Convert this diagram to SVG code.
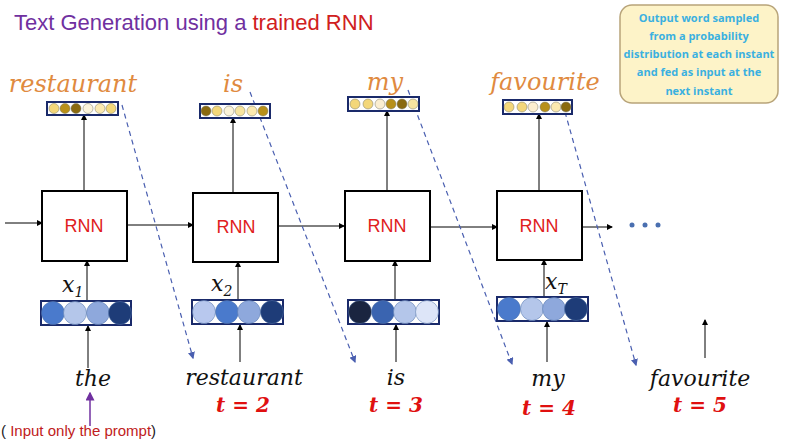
<svg xmlns="http://www.w3.org/2000/svg" width="800" height="442" viewBox="0 0 800 442">
<style>
.box{fill:#fff;stroke:#000;stroke-width:2}
.rnn{font-family:"Liberation Sans",sans-serif;font-size:18px;fill:#e02020;text-anchor:middle}
.ln{stroke:#000;stroke-width:1;fill:none}
.dash{stroke:#4a5fb0;stroke-width:1.2;stroke-dasharray:5 4;fill:none}
.ow{font-family:"DejaVu Serif",serif;font-style:italic;font-size:24px;fill:#e08a40;text-anchor:middle}
.bw{font-family:"DejaVu Serif",serif;font-style:italic;font-size:22px;fill:#111;text-anchor:middle}
.t{font-family:"DejaVu Serif",serif;font-weight:bold;font-style:italic;font-size:20px;fill:#e01010;text-anchor:middle}
.x{font-family:"DejaVu Serif",serif;font-style:italic;font-size:22px;fill:#111}
.vec{fill:#fff;stroke:#1a2a6a;stroke-width:2}
.ovec{fill:#fff;stroke:#1a2a6a;stroke-width:2}
</style>
<defs>
<marker id="a" markerWidth="6" markerHeight="6" refX="5" refY="3" orient="auto"><path d="M0,0L6,3L0,6z" fill="#000"/></marker>
<marker id="b" markerWidth="6" markerHeight="6" refX="5" refY="3" orient="auto"><path d="M0,0L6,3L0,6z" fill="#4a5fb0"/></marker>
<marker id="p" markerWidth="6" markerHeight="6" refX="5" refY="3" orient="auto"><path d="M0,0L6,3L0,6z" fill="#7030a0"/></marker>
</defs>
<text x="14" y="30" font-family="Liberation Sans,sans-serif" font-size="22" fill="#7030a0">Text Generation using a <tspan fill="#d02020">trained RNN</tspan></text>
<g id="callout">
<rect x="620" y="5" width="158" height="98" rx="12" fill="#fdf3c8" stroke="#b8a47a" stroke-width="1.5"/>
<g font-family="Open Sans,sans-serif" font-size="11" font-weight="bold" fill="#3ab0e0" text-anchor="middle">
<text x="699" y="22">Output word sampled</text>
<text x="699" y="40">from a probability</text>
<text x="699" y="58">distribution at each instant</text>
<text x="699" y="76">and fed as input at the</text>
<text x="699" y="95">next instant</text>
</g>
</g>
<g id="connectors">
<line class="ln" x1="5" y1="223" x2="42" y2="223" marker-end="url(#a)"/>
<line class="ln" x1="127" y1="225" x2="193" y2="225" marker-end="url(#a)"/>
<line class="ln" x1="278" y1="226" x2="344" y2="226" marker-end="url(#a)"/>
<line class="ln" x1="430" y1="227" x2="497" y2="227" marker-end="url(#a)"/>
<line class="ln" x1="582" y1="227" x2="612" y2="227" marker-end="url(#a)"/>
<line class="ln" x1="84" y1="191" x2="84" y2="115" marker-end="url(#a)"/>
<line class="ln" x1="233" y1="193" x2="233" y2="118" marker-end="url(#a)"/>
<line class="ln" x1="387" y1="191" x2="387" y2="111" marker-end="url(#a)"/>
<line class="ln" x1="539" y1="191" x2="539" y2="114" marker-end="url(#a)"/>
<line class="ln" x1="87" y1="300" x2="87" y2="261" marker-end="url(#a)"/>
<line class="ln" x1="238" y1="299" x2="238" y2="262" marker-end="url(#a)"/>
<line class="ln" x1="395" y1="299" x2="395" y2="261" marker-end="url(#a)"/>
<line class="ln" x1="544" y1="297" x2="544" y2="260" marker-end="url(#a)"/>
<line class="ln" x1="88" y1="368" x2="88" y2="326" marker-end="url(#a)"/>
<line class="ln" x1="240" y1="362" x2="240" y2="325" marker-end="url(#a)"/>
<line class="ln" x1="396" y1="362" x2="396" y2="325" marker-end="url(#a)"/>
<line class="ln" x1="547" y1="362" x2="547" y2="322" marker-end="url(#a)"/>
<line class="ln" x1="705" y1="358" x2="705" y2="320" marker-end="url(#a)"/>
<line x1="90" y1="426" x2="90" y2="393" stroke="#7030a0" stroke-width="1.5" marker-end="url(#p)"/>
<line class="dash" x1="122" y1="105" x2="193" y2="358" marker-end="url(#b)"/>
<line class="dash" x1="250" y1="92" x2="355" y2="362" marker-end="url(#b)"/>
<line class="dash" x1="408" y1="90" x2="512" y2="364" marker-end="url(#b)"/>
<line class="dash" x1="565" y1="112" x2="636" y2="365" marker-end="url(#b)"/>
</g>
<g id="dots" fill="#4a6fb0"><circle cx="632" cy="225" r="2.5"/><circle cx="645" cy="225" r="2.5"/><circle cx="658" cy="225" r="2.5"/></g>
<g id="rnn1"><rect class="box" x="42" y="191" width="85" height="70"/><text class="rnn" x="84" y="232">RNN</text></g>
<g id="rnn2"><rect class="box" x="193" y="193" width="85" height="69"/><text class="rnn" x="236" y="233">RNN</text></g>
<g id="rnn3"><rect class="box" x="345" y="191" width="85" height="70"/><text class="rnn" x="387" y="232">RNN</text></g>
<g id="rnn4"><rect class="box" x="497" y="191" width="85" height="69"/><text class="rnn" x="539" y="232">RNN</text></g>
<g id="out1"><rect class="ovec" x="47" y="102" width="71" height="13"/>
<g stroke="#776" stroke-width="0.5"><circle cx="54" cy="108.5" r="5" fill="#f3d77a"/><circle cx="65" cy="108.5" r="5" fill="#b8901a"/><circle cx="76" cy="108.5" r="5" fill="#8a6a10"/><circle cx="88" cy="108.5" r="5" fill="#fbf3da"/><circle cx="100" cy="108.5" r="5" fill="#fbe9b0"/><circle cx="111" cy="108.5" r="5" fill="#f3d77a"/></g></g>
<g id="out2"><rect class="ovec" x="200" y="104" width="70" height="14"/>
<g stroke="#776" stroke-width="0.5"><circle cx="206" cy="111" r="5" fill="#8a6a10"/><circle cx="217" cy="111" r="5" fill="#f3d77a"/><circle cx="229" cy="111" r="5" fill="#fbf3da"/><circle cx="240" cy="111" r="5" fill="#f7e4a0"/><circle cx="252" cy="111" r="5" fill="#fbe9b0"/><circle cx="263" cy="111" r="5" fill="#b8901a"/></g></g>
<g id="out3"><rect class="ovec" x="348" y="97" width="71" height="14"/>
<g stroke="#776" stroke-width="0.5"><circle cx="355" cy="104" r="5" fill="#f3d77a"/><circle cx="368" cy="104" r="5" fill="#f3d77a"/><circle cx="380" cy="104" r="5" fill="#fbeed0"/><circle cx="391" cy="104" r="5" fill="#b8901a"/><circle cx="402" cy="104" r="5" fill="#8a6a10"/><circle cx="413" cy="104" r="5" fill="#f7e4a0"/></g></g>
<g id="out4"><rect class="ovec" x="503" y="100" width="69" height="14"/>
<g stroke="#776" stroke-width="0.5"><circle cx="509" cy="107" r="5" fill="#f3d77a"/><circle cx="522" cy="107" r="5" fill="#f3d77a"/><circle cx="533" cy="107" r="5" fill="#fbeed0"/><circle cx="545" cy="107" r="5" fill="#b8901a"/><circle cx="556" cy="107" r="5" fill="#fbe9b0"/><circle cx="566" cy="107" r="5" fill="#8a6a10"/></g></g>
<g id="in1"><rect class="vec" x="41" y="301" width="90" height="24"/>
<g stroke="#5577aa" stroke-width="0.5"><circle cx="53" cy="313" r="11.5" fill="#4a7acc"/><circle cx="75" cy="313" r="11.5" fill="#b4c6ea"/><circle cx="98" cy="313" r="11.5" fill="#8ea8dc"/><circle cx="120" cy="313" r="11.5" fill="#1e3c78"/></g></g>
<g id="in2"><rect class="vec" x="192" y="300" width="91" height="24"/>
<g stroke="#5577aa" stroke-width="0.5"><circle cx="204" cy="312" r="11.5" fill="#b8c8ee"/><circle cx="227" cy="312" r="11.5" fill="#4a7acc"/><circle cx="249" cy="312" r="11.5" fill="#8ea8dc"/><circle cx="272" cy="312" r="11.5" fill="#1e3c78"/></g></g>
<g id="in3"><rect class="vec" x="348" y="300" width="91" height="24"/>
<g stroke="#5577aa" stroke-width="0.5"><circle cx="360" cy="312" r="11.5" fill="#1a2540"/><circle cx="383" cy="312" r="11.5" fill="#3a64b0"/><circle cx="405" cy="312" r="11.5" fill="#b4c6ea"/><circle cx="427" cy="312" r="11.5" fill="#dde5f8"/></g></g>
<g id="in4"><rect class="vec" x="497" y="297" width="91" height="24"/>
<g stroke="#5577aa" stroke-width="0.5"><circle cx="509" cy="309" r="11.5" fill="#4a7acc"/><circle cx="532" cy="309" r="11.5" fill="#b4c6ea"/><circle cx="554" cy="309" r="11.5" fill="#8ea8dc"/><circle cx="576" cy="309" r="11.5" fill="#1e3c78"/></g></g>
<g id="xlabels">
<text class="x" x="62" y="292">x<tspan font-size="14" dy="5">1</tspan></text>
<text class="x" x="211" y="291">x<tspan font-size="14" dy="5">2</tspan></text>
<text class="x" x="545" y="289">x<tspan font-size="14" dy="5">T</tspan></text>
</g>
<g id="outwords">
<text class="ow" x="73" y="92">restaurant</text>
<text class="ow" x="233" y="92">is</text>
<text class="ow" x="385" y="90">my</text>
<text class="ow" x="545" y="90">favourite</text>
</g>
<g id="inwords">
<text class="bw" x="93" y="386">the</text>
<text class="bw" x="244" y="385">restaurant</text>
<text class="bw" x="396" y="385">is</text>
<text class="bw" x="548" y="386">my</text>
<text class="bw" x="700" y="386">favourite</text>
<text class="t" x="243" y="412">t = 2</text>
<text class="t" x="396" y="412">t = 3</text>
<text class="t" x="549" y="415">t = 4</text>
<text class="t" x="700" y="412">t = 5</text>
</g>
<text x="1" y="436" font-family="Liberation Sans,sans-serif" font-size="15"><tspan fill="#222">( </tspan><tspan fill="#c02020">Input only the prompt</tspan><tspan fill="#222">)</tspan></text>
</svg>
